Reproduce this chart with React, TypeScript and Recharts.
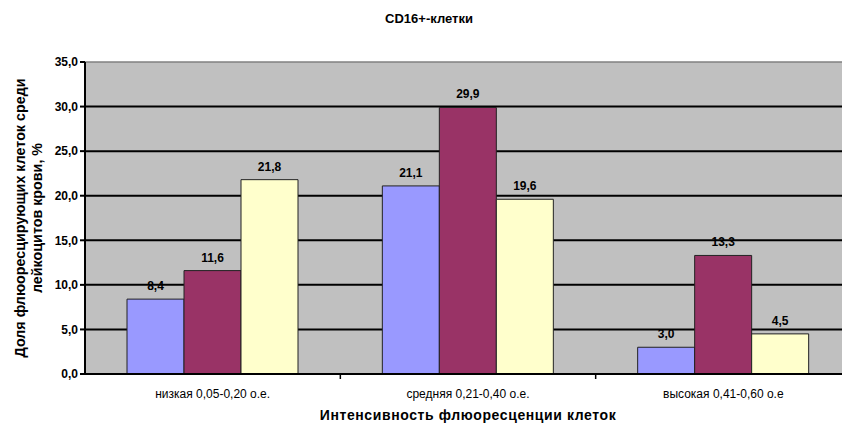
import React from "react";
import {
  Bar,
  BarChart,
  CartesianGrid,
  LabelList,
  ReferenceLine,
  XAxis,
  YAxis,
} from "recharts";

const categories = [
  "низкая 0,05-0,20 о.е.",
  "средняя 0,21-0,40 о.е.",
  "высокая 0,41-0,60 о.е",
];
const series1 = [8.4, 21.1, 3.0];
const series2 = [11.6, 29.9, 13.3];
const series3 = [21.8, 19.6, 4.5];
const yTicks = [0, 5, 10, 15, 20, 25, 30, 35];

const COLORS = ["#9999FF", "#993366", "#FFFFCC"];
const FONT = "'Liberation Sans', Arial, sans-serif";

const CHART_W = 872;
const CHART_H = 427;
const X_H = 30;
const MARGIN = { top: 62, right: 21, left: 0, bottom: 53 - X_H };
const Y_W = 85;
const BAND = (CHART_W - MARGIN.right - Y_W) / categories.length;

const data = categories.map((name, i) => ({
  name,
  s1: series1[i],
  s2: series2[i],
  s3: series3[i],
}));

const fmt = (v: any) => Number(v).toFixed(1).replace(".", ",");

const XTick = (props: any) => {
  const { x, y, payload } = props;
  return (
    <g>
      <line x1={x + BAND / 2} x2={x + BAND / 2} y1={y - 8} y2={y - 3} stroke="#000" strokeWidth={1.5} />
      <text x={x} y={y + 16} textAnchor="middle" fontSize={12} fontFamily={FONT} fill="#000">
        {payload.value}
      </text>
    </g>
  );
};

export default function App() {
  return (
    <div
      style={{
        position: "absolute",
        left: 0,
        top: 0,
        width: 842,
        height: 427,
        overflow: "hidden",
        background: "#fff",
      }}
    >
      <div style={{ position: "absolute", left: 0, top: 0 }}>
        <BarChart
          width={CHART_W}
          height={CHART_H}
          data={data}
          margin={MARGIN}
          barGap={0}
          barSize={57}
        >
          <CartesianGrid
            fill="#C0C0C0"
            stroke="#000"
            strokeWidth={2}
            vertical={false}
            horizontalValues={[5, 10, 15, 20, 25, 30]}
          />
          <ReferenceLine y={35} stroke="#808080" strokeWidth={1.5} />
          <XAxis
            dataKey="name"
            height={X_H}
            axisLine={{ stroke: "#000", strokeWidth: 2 }}
            tickLine={false}
            tick={<XTick />}
            interval={0}
          />
          <YAxis
            width={Y_W}
            domain={[0, 35]}
            ticks={yTicks}
            interval={0}
            axisLine={{ stroke: "#000", strokeWidth: 2 }}
            tickLine={{ stroke: "#000", strokeWidth: 2 }}
            tickSize={5}
            tickFormatter={fmt}
            tick={{ fontSize: 12, fontWeight: 700, fill: "#000", fontFamily: FONT }}
          />
          {["s1", "s2", "s3"].map((k, i) => (
            <Bar
              key={k}
              dataKey={k}
              fill={COLORS[i]}
              stroke="#222"
              strokeWidth={1}
              isAnimationActive={false}
            >
              <LabelList
                dataKey={k}
                position="top"
                offset={9}
                formatter={fmt}
                style={{ fontSize: 12, fontWeight: 700, fill: "#000", fontFamily: FONT }}
              />
            </Bar>
          ))}
        </BarChart>
      </div>
      <svg
        width={842}
        height={427}
        style={{ position: "absolute", left: 0, top: 0, pointerEvents: "none" }}
        fontFamily={FONT}
        fontWeight={700}
      >
        <text x={429} y={23} textAnchor="middle" fontSize={13}>
          CD16+-клетки
        </text>
        <text x={468} y={420} textAnchor="middle" fontSize={14} letterSpacing={0.6}>
          Интенсивность флюоресценции клеток
        </text>
        <text transform="translate(25,218) rotate(-90)" textAnchor="middle" fontSize={14.3}>
          Доля флюоресцирующих клеток среди
        </text>
        <text transform="translate(42,218) rotate(-90)" textAnchor="middle" fontSize={14.3}>
          лейкоцитов крови, %
        </text>
      </svg>
    </div>
  );
}
